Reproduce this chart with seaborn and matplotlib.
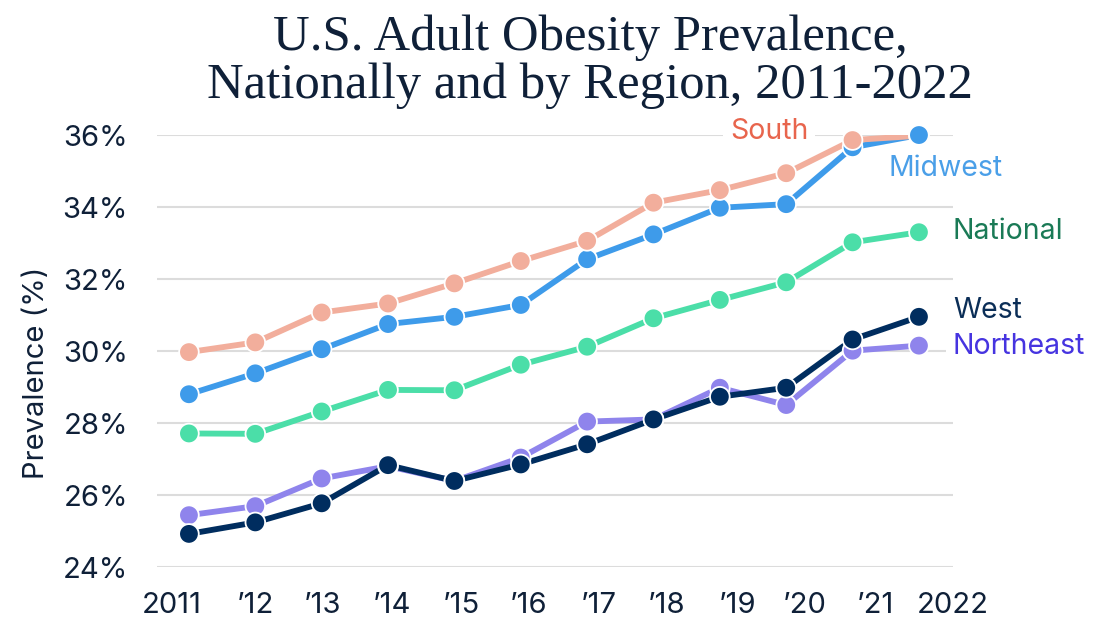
import matplotlib
matplotlib.use("Agg")
import matplotlib.pyplot as plt
import seaborn as sns
import pandas as pd

years = list(range(2011, 2023))
south = [29.97, 30.24, 31.07, 31.32, 31.88, 32.50, 33.06, 34.12, 34.47, 34.94, 35.86, 35.98]
midwest = [28.80, 29.38, 30.05, 30.75, 30.95, 31.28, 32.55, 33.24, 33.98, 34.08, 35.66, 36.00]
national = [27.71, 27.70, 28.32, 28.92, 28.91, 29.62, 30.12, 30.91, 31.42, 31.91, 33.02, 33.30]
northeast = [25.44, 25.69, 26.46, 26.80, 26.39, 27.04, 28.04, 28.10, 28.98, 28.50, 30.01, 30.15]
west = [24.92, 25.24, 25.77, 26.83, 26.39, 26.85, 27.41, 28.10, 28.73, 28.98, 30.32, 30.95]

series_names = ["Northeast", "West", "National", "Midwest", "South"]
tick_labels = ["2011", "\u201912", "\u201913", "\u201914", "\u201915", "\u201916",
               "\u201917", "\u201918", "\u201919", "\u201920", "\u201921", "2022"]
y_ticks = [24, 26, 28, 30, 32, 34, 36]

line_colors = {"South": "#F2AE9C", "Midwest": "#3E9BEA", "National": "#4BDEA8",
               "Northeast": "#8F84EC", "West": "#002D5F"}
label_colors = {"South": "#E8654D", "Midwest": "#4A9FE8", "National": "#1A7A56",
                "West": "#0B2E57", "Northeast": "#4634E0"}

values = {"South": south, "Midwest": midwest, "National": national,
          "Northeast": northeast, "West": west}
rows = []
for name in series_names:
    for y, v in zip(years, values[name]):
        rows.append({"Year": y, "Series": name, "Value": v})
df = pd.DataFrame(rows)

sns.set_theme(style="white")
plt.rcParams["font.family"] = ["Inter", "DejaVu Sans"]
text_color = "#0F2038"

fig = plt.figure(figsize=(10.93, 6.22), dpi=100)
ax = fig.add_axes([0.1436, 0.0884, 0.7283, 0.6945])

sns.lineplot(data=df, x="Year", y="Value", hue="Series", hue_order=series_names,
             palette=line_colors, linewidth=4.2, legend=False, ax=ax, zorder=3,
             solid_capstyle="round")

# markers: order rows so overlaps resemble the reference
rank = {"Northeast": 0, "West": 1, "National": 2, "Midwest": 2, "South": 2}
dfm = df.assign(r=df["Series"].map(rank)).sort_values(["Year", "r", "Value"])
sns.scatterplot(data=dfm, x="Year", y="Value", hue="Series", palette=line_colors,
                s=200, edgecolor="white", linewidth=1.3, legend=False, ax=ax,
                zorder=4, clip_on=False)

ax.set_xlim(2010.518, 2022.513)
ax.set_ylim(24, 36)
ax.set_yticks(y_ticks)
ax.set_yticklabels([f"{t}%" for t in y_ticks])
tick_pos = [2010.74, 2011.995, 2013.015, 2014.06, 2015.10, 2016.12,
            2017.18, 2018.20, 2019.26, 2020.28, 2021.34, 2022.51]
ax.set_xticks(tick_pos)
ax.set_xticklabels(tick_labels)
ax.tick_params(axis="both", length=0, labelsize=21, colors=text_color)
ax.tick_params(axis="x", pad=18)
ax.tick_params(axis="y", pad=21)
ax.grid(axis="y", color="#DCDCDC", linewidth=1.5)
ax.grid(axis="x", visible=False)
for s in ax.spines.values():
    s.set_visible(False)
ax.set_xlabel("")
ax.set_ylabel("Prevalence (%)", fontsize=21, color=text_color)
ax.yaxis.set_label_coords(-0.134, 0.45)

# direct labels
def lab(name, idx, dx, dy, ha):
    ax.annotate(name, xy=(years[idx], values[name][idx]), xytext=(dx, dy),
                textcoords="offset points", ha=ha, va="center", fontsize=20.5,
                color=label_colors[name], zorder=5,
                bbox=dict(boxstyle="square,pad=0.25", fc="white", ec="none"))

lab("South", 10, -32, 6.5, "right")
lab("Midwest", 11, -22, -24, "left")
lab("National", 11, 24.5, 0.7, "left")
lab("West", 11, 24.5, 4.3, "left")
lab("Northeast", 11, 24.5, -0.7, "left")

fig.text(0.54, 0.977, "U.S. Adult Obesity Prevalence,\nNationally and by Region, 2011-2022",
         ha="center", va="top", fontsize=36.5, family=["Liberation Serif", "DejaVu Serif"],
         color=text_color, linespacing=1.06)

fig.savefig("out.png", dpi=100)
